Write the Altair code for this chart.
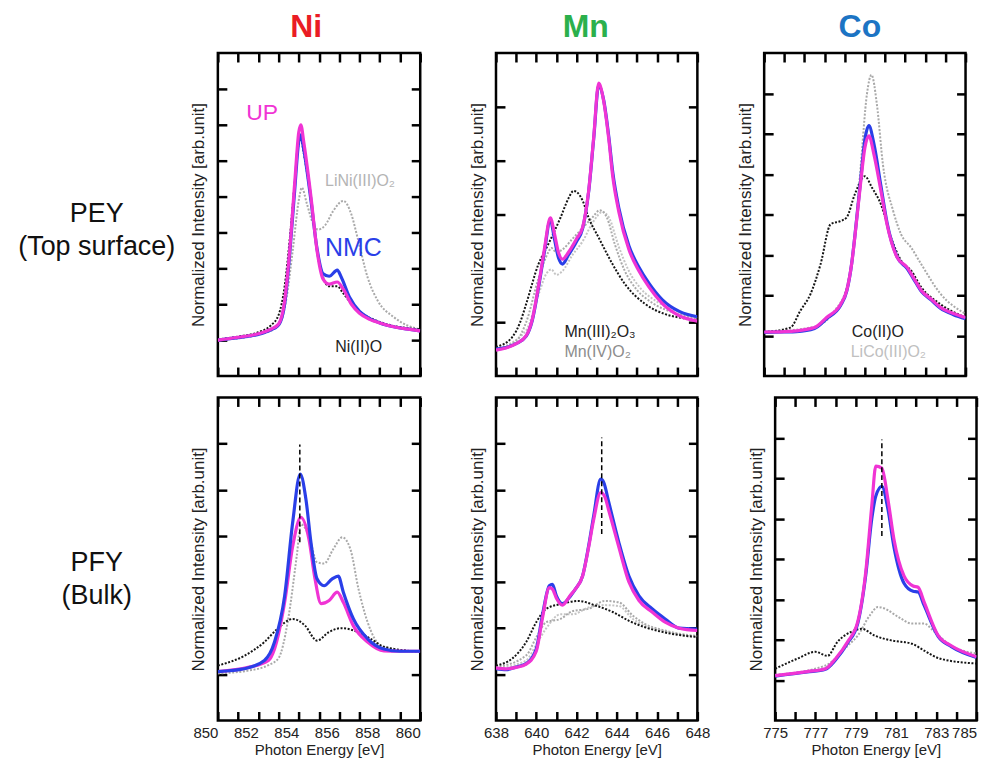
import altair as alt
import pandas as pd

FONT = "Liberation Sans"
H = 324
LW = 174

MAGENTA = "#f034d4"
BLUE = "#2a3fe8"
BLACK = "#151515"
GRAY = "#a9a9a9"
GRAY2 = "#c4c4c4"

# ---------------- Ni, PEY (top surface) ----------------
ni_pey_up_e = [850.0, 851.0, 852.0, 852.6, 853.0, 853.3, 853.55, 853.8, 854.0, 854.1, 854.25, 854.6, 854.9, 855.2, 855.5, 855.9, 856.2, 856.6, 857.0, 857.5, 858.0, 858.8, 859.5, 860.0]
ni_pey_up_i = [1.0, 1.08, 1.18, 1.3, 1.45, 2.1, 3.5, 5.4, 6.8, 7.0, 6.5, 5.0, 3.5, 2.7, 2.56, 2.62, 2.42, 2.0, 1.75, 1.58, 1.48, 1.36, 1.3, 1.26]
ni_pey_nmc_e = [850.0, 851.0, 852.0, 852.6, 853.0, 853.3, 853.55, 853.8, 854.0, 854.1, 854.25, 854.6, 854.9, 855.2, 855.5, 855.9, 856.1, 856.5, 857.0, 857.5, 858.0, 858.8, 859.5, 860.0]
ni_pey_nmc_i = [1.0, 1.07, 1.16, 1.28, 1.42, 2.0, 3.4, 5.2, 6.55, 6.72, 6.3, 4.9, 3.55, 2.85, 2.78, 2.95, 2.75, 2.2, 1.8, 1.6, 1.48, 1.36, 1.3, 1.26]
ni_pey_nio_e = [850.0, 851.0, 852.0, 852.6, 853.0, 853.3, 853.55, 853.8, 854.0, 854.1, 854.25, 854.6, 854.9, 855.2, 855.5, 855.9, 856.2, 856.7, 857.2, 857.8, 858.5, 859.3, 860.0]
ni_pey_nio_i = [1.02, 1.1, 1.22, 1.4, 1.7, 2.5, 3.8, 5.4, 6.5, 6.62, 6.2, 4.9, 3.5, 2.75, 2.5, 2.5, 2.3, 1.95, 1.72, 1.55, 1.42, 1.34, 1.3]
ni_pey_lini_e = [850.0, 852.0, 853.0, 853.4, 853.7, 854.0, 854.15, 854.4, 854.7, 854.95, 855.3, 855.7, 856.2, 856.6, 856.9, 857.4, 857.9, 858.7, 859.4, 860.0]
ni_pey_lini_i = [1.0, 1.15, 1.4, 2.2, 3.5, 4.9, 5.25, 4.8, 4.25, 4.08, 4.2, 4.6, 4.88, 4.5, 3.86, 2.75, 2.1, 1.64, 1.4, 1.3]

# ---------------- Mn, PEY ----------------
mn_pey_up_e = [638.0, 638.5, 639.0, 639.5, 639.8, 640.1, 640.4, 640.7, 640.9, 641.1, 641.3, 641.6, 642.0, 642.3, 642.6, 642.85, 643.1, 643.35, 643.6, 643.8, 644.1, 644.6, 645.1, 645.6, 646.25, 647.1, 648.0]
mn_pey_up_i = [0.48, 0.52, 0.6, 0.75, 1.05, 1.65, 2.35, 2.94, 2.65, 2.3, 2.17, 2.3, 2.55, 2.76, 3.44, 4.43, 5.44, 5.1, 4.4, 3.7, 3.05, 2.35, 1.95, 1.65, 1.35, 1.12, 1.02]
mn_pey_nmc_e = [638.0, 638.5, 639.0, 639.5, 639.8, 640.1, 640.4, 640.7, 640.9, 641.1, 641.3, 641.6, 642.0, 642.3, 642.6, 642.85, 643.1, 643.35, 643.6, 643.8, 644.1, 644.6, 645.1, 645.6, 646.25, 647.1, 648.0]
mn_pey_nmc_i = [0.5, 0.53, 0.6, 0.74, 1.03, 1.62, 2.3, 2.9, 2.55, 2.2, 2.08, 2.25, 2.5, 2.74, 3.42, 4.4, 5.4, 5.12, 4.45, 3.78, 3.12, 2.42, 2.02, 1.72, 1.42, 1.2, 1.1]
mn_pey_mn2o3_e = [638.0, 638.8, 639.2, 639.5, 640.1, 640.6, 641.2, 641.6, 641.85, 642.3, 642.6, 643.1, 643.8, 644.4, 645.4, 646.4, 647.2, 648.0]
mn_pey_mn2o3_i = [0.54, 0.72, 1.0, 1.34, 2.07, 2.45, 2.94, 3.3, 3.44, 3.26, 2.94, 2.57, 2.07, 1.71, 1.34, 1.15, 1.08, 1.03]
mn_pey_mno2_e = [638.0, 639.0, 639.5, 640.1, 640.6, 640.75, 641.0, 641.3, 641.8, 642.3, 642.8, 643.15, 643.5, 643.9, 644.4, 645.0, 645.8, 646.8, 648.0]
mn_pey_mno2_i = [0.5, 0.65, 1.0, 1.8, 2.3, 2.38, 2.3, 2.35, 2.55, 2.75, 2.95, 3.08, 2.95, 2.45, 1.95, 1.6, 1.35, 1.18, 1.06]
mn_pey_ref3_e = [638.0, 639.5, 640.1, 640.5, 640.75, 641.0, 641.3, 641.8, 642.3, 642.8, 643.3, 643.6, 644.1, 644.6, 645.2, 646.0, 647.0, 648.0]
mn_pey_ref3_i = [0.5, 0.85, 1.5, 1.9, 1.98, 1.88, 1.95, 2.25, 2.5, 2.85, 3.05, 2.95, 2.4, 1.95, 1.62, 1.38, 1.2, 1.08]

# ---------------- Co, PEY ----------------
co_pey_up_e = [775.0, 776.0, 776.6, 777.5, 778.1, 778.8, 779.1, 779.35, 779.5, 779.8, 780.0, 780.2, 780.45, 780.8, 781.1, 781.6, 782.1, 782.4, 782.8, 783.3, 783.75, 784.4, 785.0]
co_pey_up_i = [1.09, 1.1, 1.12, 1.2, 1.45, 1.78, 2.12, 2.8, 3.43, 4.83, 5.65, 5.95, 5.49, 4.58, 3.76, 2.94, 2.69, 2.45, 2.12, 1.9, 1.7, 1.55, 1.45]
co_pey_nmc_e = [775.0, 776.0, 776.6, 777.5, 778.1, 778.8, 779.1, 779.35, 779.5, 779.8, 780.0, 780.2, 780.45, 780.8, 781.1, 781.6, 782.1, 782.4, 782.8, 783.3, 783.75, 784.4, 785.0]
co_pey_nmc_i = [1.08, 1.09, 1.1, 1.18, 1.42, 1.75, 2.1, 2.8, 3.45, 4.9, 5.85, 6.2, 5.75, 4.7, 3.8, 2.95, 2.66, 2.42, 2.1, 1.88, 1.68, 1.52, 1.42]
co_pey_coo_e = [775.0, 776.3, 776.8, 777.3, 777.8, 778.3, 778.8, 779.1, 779.5, 780.0, 780.35, 780.8, 781.3, 781.8, 782.3, 782.8, 783.75, 785.0]
co_pey_coo_i = [1.09, 1.2, 1.62, 2.03, 2.77, 3.76, 3.84, 3.93, 4.5, 4.95, 4.67, 4.25, 3.43, 2.86, 2.61, 2.2, 1.78, 1.45]
co_pey_lico_e = [775.0, 777.5, 778.5, 779.1, 779.5, 779.8, 780.1, 780.33, 780.6, 780.9, 781.4, 781.8, 782.3, 782.8, 783.75, 785.0]
co_pey_lico_i = [1.09, 1.22, 1.62, 2.2, 3.43, 5.23, 6.97, 7.46, 6.72, 5.23, 4.1, 3.51, 3.18, 2.77, 2.04, 1.54]

# ---------------- Ni, PFY (bulk) ----------------
ni_pfy_nmc_e = [850.0, 851.3, 852.3, 852.8, 853.3, 853.7, 854.07, 854.35, 854.6, 854.9, 855.25, 855.65, 855.95, 856.2, 856.7, 857.4, 858.2, 859.0, 860.0]
ni_pfy_nmc_i = [1.06, 1.12, 1.3, 1.7, 2.7, 4.3, 5.34, 4.8, 3.86, 3.07, 2.92, 3.07, 3.13, 2.78, 2.2, 1.77, 1.55, 1.5, 1.5]
ni_pfy_up_e = [850.0, 851.5, 852.5, 852.8, 853.3, 853.7, 854.1, 854.5, 854.8, 855.1, 855.5, 855.9, 856.2, 856.7, 857.4, 858.2, 860.0]
ni_pfy_up_i = [1.06, 1.15, 1.3, 1.55, 2.56, 3.78, 4.4, 3.93, 3.07, 2.53, 2.6, 2.78, 2.56, 2.05, 1.7, 1.51, 1.5]
ni_pfy_nio_e = [850.0, 851.3, 852.3, 852.95, 853.7, 854.3, 854.9, 855.5, 856.1, 856.9, 857.55, 858.2, 860.0]
ni_pfy_nio_i = [1.19, 1.4, 1.7, 1.99, 2.2, 2.06, 1.73, 1.92, 2.0, 1.92, 1.77, 1.6, 1.49]
ni_pfy_lini_e = [850.0, 851.5, 852.5, 853.0, 853.45, 853.9, 854.1, 854.5, 854.9, 855.25, 855.7, 856.15, 856.55, 856.95, 857.4, 858.05, 859.0, 860.0]
ni_pfy_lini_i = [1.02, 1.08, 1.2, 1.35, 2.13, 3.57, 4.25, 4.0, 3.43, 3.4, 3.71, 3.97, 3.71, 2.85, 2.13, 1.62, 1.52, 1.49]
ni_pfy_mark_e = [854.05]
ni_pfy_mark_lo = [3.86]
ni_pfy_mark_hi = [5.98]

# ---------------- Mn, PFY ----------------
mn_pfy_nmc_e = [638.0, 638.5, 639.0, 639.5, 640.0, 640.3, 640.65, 640.8, 641.0, 641.3, 641.7, 641.95, 642.3, 642.6, 642.85, 643.2, 643.35, 643.6, 644.1, 644.6, 645.1, 645.75, 646.4, 647.1, 648.0]
mn_pfy_nmc_i = [1.12, 1.1, 1.16, 1.23, 1.55, 2.27, 2.92, 2.95, 2.7, 2.53, 2.7, 2.85, 3.13, 3.78, 4.43, 5.23, 5.16, 4.73, 3.86, 3.13, 2.7, 2.42, 2.2, 2.0, 1.98]
mn_pfy_up_e = [638.0, 638.5, 639.0, 639.5, 640.0, 640.3, 640.65, 640.8, 641.0, 641.3, 641.7, 641.95, 642.3, 642.6, 642.85, 643.2, 643.4, 643.6, 644.1, 644.6, 645.1, 645.75, 646.4, 647.1, 648.0]
mn_pfy_up_i = [1.14, 1.12, 1.15, 1.22, 1.5, 2.2, 2.88, 2.85, 2.65, 2.5, 2.72, 2.85, 3.13, 3.75, 4.35, 4.94, 4.85, 4.55, 3.76, 3.0, 2.6, 2.35, 2.13, 2.0, 1.95]
mn_pfy_mn2o3_e = [638.0, 638.8, 639.5, 640.0, 640.5, 641.3, 642.1, 642.95, 643.8, 644.6, 645.4, 646.25, 647.1, 648.0]
mn_pfy_mn2o3_i = [1.19, 1.34, 1.7, 2.13, 2.42, 2.53, 2.59, 2.49, 2.35, 2.16, 2.02, 1.92, 1.85, 1.81]
mn_pfy_mno2_e = [638.0, 639.5, 640.0, 640.5, 641.2, 641.8, 642.6, 643.4, 644.1, 644.8, 645.4, 646.2, 647.1, 648.0]
mn_pfy_mno2_i = [1.15, 1.41, 1.8, 2.13, 2.2, 2.37, 2.42, 2.59, 2.56, 2.27, 2.09, 1.97, 1.88, 1.83]
mn_pfy_ref3_e = [638.0, 639.5, 640.0, 640.5, 641.2, 641.8, 642.6, 643.4, 644.1, 644.8, 645.4, 646.2, 647.1, 648.0]
mn_pfy_ref3_i = [1.12, 1.3, 1.65, 2.0, 2.3, 2.3, 2.45, 2.5, 2.48, 2.2, 2.05, 1.95, 1.86, 1.8]
mn_pfy_mark_e = [643.25]
mn_pfy_mark_lo = [4.04]
mn_pfy_mark_hi = [6.13]

# ---------------- Co, PFY ----------------
co_pfy_up_e = [775.0, 776.6, 777.5, 778.0, 778.6, 779.1, 779.5, 779.8, 780.0, 780.3, 780.6, 780.9, 781.4, 781.85, 782.1, 782.4, 783.1, 783.75, 785.0]
co_pfy_up_i = [1.11, 1.21, 1.28, 1.53, 1.95, 2.44, 3.68, 5.32, 6.3, 6.25, 5.48, 4.49, 3.58, 3.33, 3.3, 2.93, 2.1, 1.85, 1.58]
co_pfy_nmc_e = [775.0, 776.6, 777.5, 778.0, 778.6, 779.1, 779.5, 779.8, 780.0, 780.3, 780.6, 780.9, 781.4, 781.85, 782.1, 782.4, 783.1, 783.75, 785.0]
co_pfy_nmc_i = [1.1, 1.2, 1.27, 1.5, 1.92, 2.4, 3.6, 5.0, 5.56, 5.8, 5.24, 4.3, 3.4, 3.2, 3.18, 2.85, 2.08, 1.83, 1.56]
co_pfy_coo_e = [775.0, 776.1, 777.0, 777.6, 778.1, 778.8, 779.3, 779.95, 780.8, 781.8, 782.4, 783.2, 785.0]
co_pfy_coo_i = [1.28, 1.53, 1.7, 1.6, 1.95, 2.2, 2.27, 2.1, 1.98, 1.9, 1.73, 1.53, 1.41]
co_pfy_lico_e = [775.0, 777.5, 778.6, 779.1, 779.7, 780.1, 780.4, 781.1, 781.8, 782.4, 782.9, 783.75, 785.0]
co_pfy_lico_i = [1.13, 1.36, 1.85, 2.1, 2.6, 2.81, 2.78, 2.57, 2.4, 2.4, 2.2, 1.85, 1.66]
co_pfy_mark_e = [780.3]
co_pfy_mark_lo = [4.57]
co_pfy_mark_hi = [6.96]

# ---------------- annotations ----------------
ni_pey_text = ["UP", "NMC", "LiNi(III)O₂", "Ni(II)O"]
ni_pey_text_e = [851.4, 855.3, 855.3, 855.8]
ni_pey_text_i = [7.33, 3.58, 5.44, 0.8]
mn_pey_text = ["Mn(III)₂O₃", "Mn(IV)O₂"]
mn_pey_text_e = [641.4, 641.4]
mn_pey_text_i = [0.81, 0.44]
co_pey_text = ["Co(II)O", "LiCo(III)O₂"]
co_pey_text_e = [779.35, 779.3]
co_pey_text_i = [1.09, 0.59]

columns = ["Ni", "Mn", "Co"]
column_colors = ["#ea1c24", "#2bb04c", "#1c74c4"]
rows = ["PEY\n(Top surface)", "PFY\n(Bulk)"]
x_domains = [[850, 860], [638, 648], [775, 785]]
x_label_values = [[850, 852, 854, 856, 858, 860],
                  [638, 640, 642, 644, 646, 648],
                  [775, 777, 779, 781, 783, 785]]


def make_panel(xdom, ymax, width, curves, texts=None, mark=None,
               xlabels=None, title=None, title_color=None, title_dx=0):
    xsc = alt.Scale(domain=xdom, nice=False, zero=False)
    ysc = alt.Scale(domain=[0, ymax], nice=False, zero=False)
    yt = list(range(1, ymax))
    xt = list(range(xdom[0], xdom[1] + 1))
    tk = dict(labels=False, domain=False, grid=False, tickSize=9,
              tickWidth=2.5, tickColor="black", minExtent=0, maxExtent=0)
    y_title = alt.Axis(orient="left", labels=False, ticks=False, domain=False,
                       grid=False, titleFont=FONT, titleFontSize=17,
                       titleFontWeight="normal", titleColor="#222",
                       titlePadding=10, minExtent=0, maxExtent=0)
    y_l = alt.Axis(orient="right", offset=-width, values=yt, **tk)
    y_r = alt.Axis(orient="left", offset=-width, values=yt, **tk)
    x_b = alt.Axis(orient="top", offset=-H, values=xt, **tk)
    x_t = alt.Axis(orient="bottom", offset=-H, values=xt, **tk)
    if xlabels is not None:
        x_lab = alt.Axis(orient="bottom", values=xlabels, ticks=False,
                         domain=False, grid=False, labelFont=FONT,
                         labelFontSize=15, labelColor="#222", labelPadding=5,
                         labelAlign={"condition": {"test": "datum.value >= 785",
                                                   "value": "right"},
                                     "value": "center"},
                         titleFont=FONT, titleFontSize=15,
                         titleFontWeight="normal", titleColor="#222",
                         titlePadding=2, labelFlush=False, minExtent=0)
    else:
        x_lab = None
    axis_sets = [(x_lab, y_title, "Photon Energy [eV]",
                  "Normalized Intensity [arb.unit]"),
                 (x_b, y_l, None, None), (x_t, y_r, None, None)]
    layers = []
    for k, (es, ii, color, dash, sw) in enumerate(curves):
        df = pd.DataFrame({"e": es, "i": ii})
        if k < 3:
            xa, ya, xtitle, ytitle = axis_sets[k]
        else:
            xa, ya, xtitle, ytitle = None, None, None, None
        mk = dict(color=color, strokeWidth=sw, interpolate="monotone",
                  clip=True)
        if dash:
            mk["strokeDash"] = dash
            mk["strokeCap"] = "butt"
        layers.append(
            alt.Chart(df).mark_line(**mk).encode(
                x=alt.X("e:Q", scale=xsc, axis=xa, title=xtitle),
                y=alt.Y("i:Q", scale=ysc, axis=ya, title=ytitle),
                order="e:Q",
            )
        )
    if texts:
        for (txt, e, i, color, size) in texts:
            df = pd.DataFrame({"e": [e], "i": [i], "t": [txt]})
            layers.append(
                alt.Chart(df).mark_text(font=FONT, fontSize=size, color=color,
                                        align="left", baseline="middle").encode(
                    x=alt.X("e:Q", scale=xsc, axis=None),
                    y=alt.Y("i:Q", scale=ysc, axis=None),
                    text="t:N",
                )
            )
    if mark:
        es, lo, hi = mark
        df = pd.DataFrame({"e": es, "lo": lo, "hi": hi})
        layers.append(
            alt.Chart(df).mark_rule(color="black", strokeWidth=1.5,
                                    strokeDash=[5, 3]).encode(
                x=alt.X("e:Q", scale=xsc, axis=None),
                y=alt.Y("lo:Q", scale=ysc, axis=None),
                y2="hi:Q",
            )
        )
    ch = alt.layer(*layers).resolve_axis(x="independent", y="independent")
    props = dict(width=width, height=H)
    if title:
        props["title"] = alt.TitleParams(text=title, font=FONT, fontSize=32,
                                         fontWeight="bold", color=title_color,
                                         anchor="middle", baseline="top",
                                         offset=8, dx=title_dx)
    return ch.properties(**props)


DOT = [2, 1.6]
SOLID_W = 3.2
DOT_W = 2.0

ni_top = make_panel(x_domains[0], 9, 203, [
    (ni_pey_lini_e, ni_pey_lini_i, GRAY, DOT, DOT_W),
    (ni_pey_nio_e, ni_pey_nio_i, BLACK, DOT, DOT_W),
    (ni_pey_nmc_e, ni_pey_nmc_i, BLUE, None, SOLID_W),
    (ni_pey_up_e, ni_pey_up_i, MAGENTA, None, SOLID_W),
], texts=[
    (ni_pey_text[0], ni_pey_text_e[0], ni_pey_text_i[0], MAGENTA, 23),
    (ni_pey_text[1], ni_pey_text_e[1], ni_pey_text_i[1], BLUE, 25),
    (ni_pey_text[2], ni_pey_text_e[2], ni_pey_text_i[2], "#b4b4b4", 16),
    (ni_pey_text[3], ni_pey_text_e[3], ni_pey_text_i[3], "#222", 16),
], title=columns[0], title_color=column_colors[0], title_dx=-13)

mn_top = make_panel(x_domains[1], 6, 202, [
    (mn_pey_ref3_e, mn_pey_ref3_i, GRAY2, DOT, DOT_W),
    (mn_pey_mno2_e, mn_pey_mno2_i, GRAY, DOT, DOT_W),
    (mn_pey_mn2o3_e, mn_pey_mn2o3_i, BLACK, DOT, DOT_W),
    (mn_pey_nmc_e, mn_pey_nmc_i, BLUE, None, SOLID_W),
    (mn_pey_up_e, mn_pey_up_i, MAGENTA, None, SOLID_W),
], texts=[
    (mn_pey_text[0], mn_pey_text_e[0], mn_pey_text_i[0], "#222", 16),
    (mn_pey_text[1], mn_pey_text_e[1], mn_pey_text_i[1], "#8c8c8c", 16),
], title=columns[1], title_color=column_colors[1], title_dx=-11)

co_top = make_panel(x_domains[2], 8, 202, [
    (co_pey_lico_e, co_pey_lico_i, GRAY, DOT, DOT_W),
    (co_pey_coo_e, co_pey_coo_i, BLACK, DOT, DOT_W),
    (co_pey_nmc_e, co_pey_nmc_i, BLUE, None, SOLID_W),
    (co_pey_up_e, co_pey_up_i, MAGENTA, None, SOLID_W),
], texts=[
    (co_pey_text[0], co_pey_text_e[0], co_pey_text_i[0], "#222", 16),
    (co_pey_text[1], co_pey_text_e[1], co_pey_text_i[1], "#c0c0c0", 16),
], title=columns[2], title_color=column_colors[2], title_dx=-5)

ni_bot = make_panel(x_domains[0], 7, 203, [
    (ni_pfy_lini_e, ni_pfy_lini_i, GRAY, DOT, DOT_W),
    (ni_pfy_nio_e, ni_pfy_nio_i, BLACK, DOT, DOT_W),
    (ni_pfy_up_e, ni_pfy_up_i, MAGENTA, None, SOLID_W),
    (ni_pfy_nmc_e, ni_pfy_nmc_i, BLUE, None, SOLID_W),
], mark=(ni_pfy_mark_e, ni_pfy_mark_lo, ni_pfy_mark_hi),
    xlabels=x_label_values[0])

mn_bot = make_panel(x_domains[1], 7, 202, [
    (mn_pfy_ref3_e, mn_pfy_ref3_i, GRAY2, DOT, DOT_W),
    (mn_pfy_mno2_e, mn_pfy_mno2_i, GRAY, DOT, DOT_W),
    (mn_pfy_mn2o3_e, mn_pfy_mn2o3_i, BLACK, DOT, DOT_W),
    (mn_pfy_nmc_e, mn_pfy_nmc_i, BLUE, None, SOLID_W),
    (mn_pfy_up_e, mn_pfy_up_i, MAGENTA, None, SOLID_W),
], mark=(mn_pfy_mark_e, mn_pfy_mark_lo, mn_pfy_mark_hi),
    xlabels=x_label_values[1])

co_bot = make_panel(x_domains[2], 8, 202, [
    (co_pfy_lico_e, co_pfy_lico_i, GRAY, DOT, DOT_W),
    (co_pfy_coo_e, co_pfy_coo_i, BLACK, DOT, DOT_W),
    (co_pfy_nmc_e, co_pfy_nmc_i, BLUE, None, SOLID_W),
    (co_pfy_up_e, co_pfy_up_i, MAGENTA, None, SOLID_W),
], mark=(co_pfy_mark_e, co_pfy_mark_lo, co_pfy_mark_hi),
    xlabels=x_label_values[2])


def row_label(text, ypos):
    df = pd.DataFrame({"t": [text]})
    return alt.Chart(df).mark_text(
        font=FONT, fontSize=27, lineBreak="\n", lineHeight=33,
        align="center", baseline="middle", color="#111"
    ).encode(
        text="t:N", x=alt.value(LW / 2), y=alt.value(ypos)
    ).properties(width=LW, height=H,
                 view=alt.ViewBackground(stroke="transparent"))


row1 = alt.hconcat(
    row_label(rows[0], 162),
    alt.hconcat(ni_top, alt.hconcat(mn_top, co_top, spacing=34), spacing=43),
    spacing=2.5,
)
row2 = alt.hconcat(
    row_label(rows[1], 166),
    alt.hconcat(ni_bot, alt.hconcat(mn_bot, co_bot, spacing=34), spacing=43),
    spacing=2.5,
)

chart = alt.vconcat(row1, row2, spacing=15.5).properties(
    padding=0,
    background="white",
).configure_view(stroke="black", strokeWidth=2.5)

chart.save("out.html", embed_options={"renderer": "svg", "actions": False})
